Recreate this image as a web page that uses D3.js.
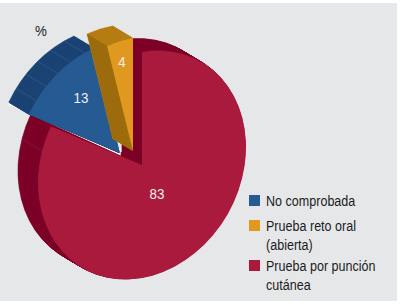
<!DOCTYPE html>
<html><head><meta charset="utf-8">
<script src="https://cdn.jsdelivr.net/npm/d3@7"></script>
<style>html,body{margin:0;padding:0;background:#fff}svg{display:block}text{font-family:"Liberation Sans",Arial,sans-serif}</style>
</head><body><svg id="c" width="400" height="305"></svg>
<script>
const categories=["Prueba por punción cutánea","Prueba reto oral (abierta)","No comprobada"];
const values=[83,4,13];
const faceColors=["#aa1a3c","#e0981f","#265a92"];
const rimColors=["#7d0228","#b57d14","#1a4273"];
const legendOrder=[2,1,0];
const legendLines=[["No comprobada"],["Prueba reto oral","(abierta)"],["Prueba por punción","cutánea"]];

const svg=d3.select("#c");
svg.append("rect").attr("x",0).attr("y",3).attr("width",397).attr("height",298).attr("fill","#e6e7e9");

const R=100, depth=[-20,-12], depthSteps=24;
const mx=1.04,my=1.13,skew=-0.18;
const apex=[[142,165],[133,151],[120,153]];
const ordered=d3.pie().value(d=>d).sort(null)([values[0],values[2],values[1]]);
const arcs=[ordered[0],ordered[2],ordered[1]];
const arc=d3.arc().innerRadius(0).outerRadius(R);
const M=(p,dx,dy)=>`matrix(${mx} ${skew} 0 ${my} ${apex[p][0]+dx} ${apex[p][1]+dy})`;
const pt=(p,a,dx=0,dy=0)=>{const x=R*Math.sin(a),y=-R*Math.cos(a);return [apex[p][0]+dx+mx*x,apex[p][1]+dy+skew*x+my*y];};
const line=d3.line();
const steps=d3.range(depthSteps,-1,-1).map(i=>i/depthSteps);

function slice(i){
  const g=svg.append("g");
  g.selectAll("path.r").data(steps.slice(0,-1)).join("path")
    .attr("d",arc(arcs[i])).attr("fill",rimColors[i]).attr("stroke",rimColors[i]).attr("stroke-width",.6)
    .attr("transform",t=>M(i,depth[0]*t,depth[1]*t));
  return g;
}
slice(0);
svg.append("path").attr("d",line([pt(0,arcs[0].endAngle-0.22),pt(0,arcs[0].endAngle-0.22,depth[0],depth[1])]))
  .attr("stroke","#8f2040").attr("stroke-width",.6).attr("fill","none");
svg.append("path").attr("d",arc(arcs[0])).attr("fill",faceColors[0]).attr("transform",M(0,0,0));

const bA=arcs[2];
svg.append("path").attr("d",line([pt(2,bA.startAngle,depth[0]-.5,depth[1]+1.6),[apex[2][0],apex[2][1]+1.4],[apex[2][0],apex[2][1]-5]]))
  .attr("fill","none").attr("stroke","#fff").attr("stroke-width",1.4);

slice(2);
svg.append("path").attr("d",arc(arcs[2])).attr("fill",faceColors[2]).attr("transform",M(2,0,0));
const seams=[0.16,0.34,0.52,0.70,0.88];
svg.selectAll("path.seam").data(seams).join("path").attr("class","seam")
  .attr("d",f=>{const a=bA.startAngle+f*(bA.endAngle-bA.startAngle);return line([pt(2,a),pt(2,a,depth[0],depth[1])]);})
  .attr("stroke","#3a6190").attr("stroke-width",.6).attr("fill","none");

slice(1);
const gA=arcs[1];
svg.append("path").attr("d",line([[apex[1][0],apex[1][1]],[apex[1][0]+depth[0],apex[1][1]+depth[1]],pt(1,gA.startAngle,depth[0],depth[1]),pt(1,gA.startAngle)])+"Z")
  .attr("fill","#9c6c0c");
svg.append("path").attr("d",arc(arcs[1])).attr("fill",faceColors[1]).attr("transform",M(1,0,0));

const narrow=(x,y,sx)=>`translate(${x},${y}) scale(${sx},1)`;
const labels=[[157,193,"83"],[122,61,"4"],[81,97,"13"]];
labels.forEach((l,i)=>svg.append("text").attr("transform",narrow(l[0],l[1]+5.5,.86)).attr("text-anchor","middle")
  .attr("font-size",15.5).attr("fill","#f4eef0").text(values[i]));
svg.append("text").attr("transform",narrow(41,36,.86)).attr("text-anchor","middle").attr("font-size",15.5).attr("fill","#222").text("%");

const legY=[[206],[231,250],[271,290]], swY=[195,220,260];
legendOrder.forEach((c,i)=>{
  svg.append("rect").attr("x",249).attr("y",swY[i]).attr("width",11).attr("height",11).attr("fill",faceColors[c]);
  legendLines[i].forEach((t,j)=>svg.append("text").attr("transform",narrow(266,legY[i][j],.86)).attr("font-size",14.6).attr("fill","#1c1c1c").text(t));
});
</script></body></html>
